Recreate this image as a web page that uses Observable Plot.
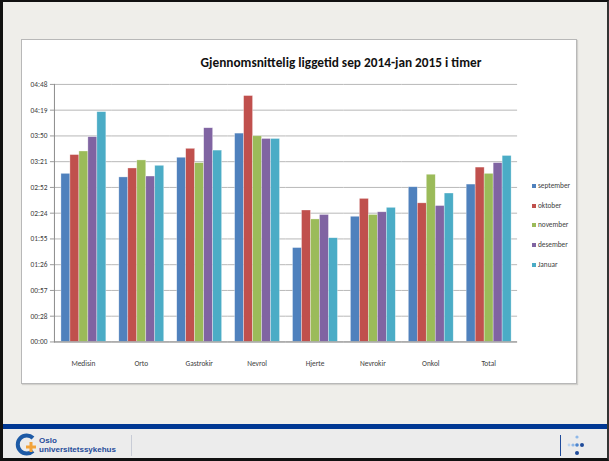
<!DOCTYPE html>
<html>
<head>
<meta charset="utf-8">
<script src="https://cdn.jsdelivr.net/npm/d3@7"></script>
<script src="https://cdn.jsdelivr.net/npm/@observablehq/plot@0.6"></script>
<style>
  html, body { margin: 0; padding: 0; background: #efeeeb; }
  #slide {
    position: relative; width: 609px; height: 461px; box-sizing: border-box;
    border-left: 3px solid #111; border-top: 2px solid #111; border-bottom: 3px solid #111; border-right: 2px solid #333;
    background: #efeeea; overflow: hidden;
    font-family: Carlito, "Liberation Sans Narrow", "DejaVu Sans Condensed", sans-serif;
  }
  #box {
    position: absolute; left: 18px; top: 37px; width: 556px; height: 345px; box-sizing: border-box;
    background: #fff; border: 1px solid #b8b8b8; box-shadow: 1px 1px 1px rgba(0,0,0,0.12);
  }
  #chart { position: absolute; left: -1px; top: -1px; }
  #title {
    position: absolute; left: 138px; top: 52px; width: 400px; text-align: center;
    font-weight: bold; font-size: 13.3px; color: #111; white-space: nowrap;
  }
  #legend { position: absolute; left: 529px; top: 178px; font-size: 7.3px; color: #404040; }
  .li { position: absolute; left: 0; height: 12px; line-height: 12px; white-space: nowrap; }
  .sw { position: absolute; left: 0; top: 4px; width: 4px; height: 4px; }
  .lt { position: absolute; left: 6px; top: 0; }
  #band { position: absolute; left: 0; top: 422px; width: 609px; height: 5px; background: #003893; }
  #footer { position: absolute; left: 0; top: 427px; width: 609px; height: 40px; background: #ececec; }
</style>
</head>
<body>
<div id="slide">
  <div id="box"><div id="chart"></div></div>
  <div id="title">Gjennomsnittelig liggetid sep 2014-jan 2015 i timer</div>
  <div id="legend"></div>
  <div id="band"></div>
  <div id="footer">
    <svg width="609" height="32" style="position:absolute;left:0;top:0">
      <path d="M 30 9 A 9 9 0 1 0 30 22" fill="none" stroke="#1d5aa6" stroke-width="4"/>
      <rect x="26.5" y="13" width="3" height="10" fill="#f2a33a"/>
      <rect x="23" y="16.5" width="10" height="3" fill="#f2a33a"/>
      <text x="36" y="14" font-size="8" font-weight="bold" fill="#1f4b9a" font-family="Liberation Sans, sans-serif">Oslo</text>
      <text x="36" y="23" font-size="8" font-weight="bold" fill="#1f4b9a" font-family="Liberation Sans, sans-serif">universitetssykehus</text>
      <line x1="128.5" y1="6" x2="128.5" y2="27" stroke="#c8ccd6" stroke-width="1"/>
      <line x1="557.5" y1="6" x2="557.5" y2="27" stroke="#1f4b9a" stroke-width="1"/>
      <circle cx="574" cy="8" r="1.6" fill="#8fb8e8"/>
      <circle cx="566" cy="16" r="1.4" fill="#bcd4f0"/>
      <circle cx="570" cy="16" r="1.6" fill="#8fb8e8"/>
      <circle cx="574" cy="16" r="1.8" fill="#4d86cf"/>
      <circle cx="579" cy="16" r="2" fill="#1f4b9a"/>
      <circle cx="574" cy="24" r="2" fill="#1f4b9a"/>
    </svg>
  </div>
</div>
<script>
// ---- data (h:mm) ----
const categories = ["Medisin", "Orto", "Gastrokir", "Nevrol", "Hjerte", "Nevrokir", "Onkol", "Total"];
const months = ["september", "oktober", "november", "desember", "Januar"];
const september = ["3:08", "3:04", "3:26", "3:53", "1:45", "2:20", "2:53", "2:56"];
const oktober   = ["3:29", "3:14", "3:36", "4:35", "2:27", "2:40", "2:35", "3:15"];
const november  = ["3:33", "3:23", "3:20", "3:50", "2:17", "2:22", "3:07", "3:08"];
const desember  = ["3:49", "3:05", "3:59", "3:47", "2:22", "2:25", "2:32", "3:20"];
const januar    = ["4:17", "3:17", "3:34", "3:47", "1:56", "2:30", "2:46", "3:28"];
const yTickLabels = ["00:00", "00:28", "00:57", "01:26", "01:55", "02:24", "02:52", "03:21", "03:50", "04:19", "04:48"];
const colors = ["#4F81BD", "#C0504D", "#9BBB59", "#8064A2", "#4BACC6"];

const toMin = s => { const [h, m] = s.split(":").map(Number); return h * 60 + m; };
const series = [september, oktober, november, desember, januar];
const rows = [];
series.forEach((vals, si) => vals.forEach((v, ci) => rows.push({category: categories[ci], month: months[si], minutes: toMin(v)})));

const yMax = toMin(yTickLabels[yTickLabels.length - 1]);
const yTicks = yTickLabels.map((_, i) => i * yMax / (yTickLabels.length - 1));
const labelOf = new Map(yTicks.map((t, i) => [t, yTickLabels[i]]));

const font = 'Carlito, "Liberation Sans Narrow", "DejaVu Sans Condensed", sans-serif';

const chart = Plot.plot({
  width: 556, height: 345,
  marginLeft: 31, marginRight: 57, marginTop: 45, marginBottom: 42,
  style: {fontFamily: font, fontSize: "7.4px", color: "#404040", background: "transparent", overflow: "visible"},
  fx: {domain: categories, padding: 0, label: null},
  x: {domain: months, paddingInner: 0, paddingOuter: 0.68, axis: null},
  y: {domain: [0, yMax], label: null},
  color: {domain: months, range: colors},
  marks: [
    Plot.gridY(yTicks, {stroke: "#b8b8b8", strokeOpacity: 1, strokeWidth: 1}),
    Plot.axisY(yTicks, {tickSize: 4, tickPadding: 3, stroke: "#9a9a9a", fill: "#404040", tickFormat: d => labelOf.get(d), label: null}),
    Plot.axisFx({anchor: "bottom", tickSize: 0, tickPadding: 19, fill: "#404040", label: null}),
    Plot.barY(rows, {fx: "category", x: "month", y: "minutes", fill: "month", stroke: "#ffffff", strokeOpacity: 0.55, strokeWidth: 0.6}),
    Plot.ruleY([0], {stroke: "#8c8c8c"}),
    Plot.frame({anchor: "left", stroke: "#8c8c8c", facetAnchor: "left"})
  ]
});
document.getElementById("chart").appendChild(chart);

const legend = document.getElementById("legend");
months.forEach((m, i) => {
  const d = document.createElement("div");
  d.className = "li";
  d.style.top = (i * 19.7) + "px";
  d.innerHTML = `<span class="sw" style="background:${colors[i]}"></span><span class="lt">${m}</span>`;
  legend.appendChild(d);
});
</script>
</body>
</html>
